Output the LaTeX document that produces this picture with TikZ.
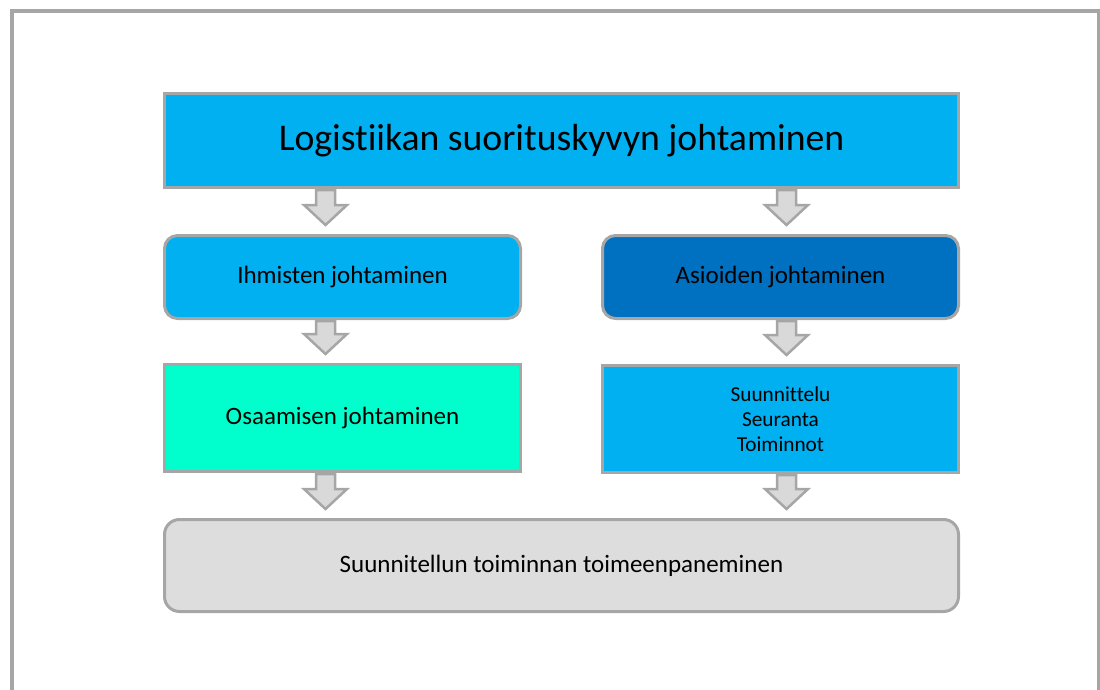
\documentclass[tikz,border=0pt]{standalone}
\usepackage{fontspec}
\setmainfont{Carlito}[Ligatures=NoCommon]
\usetikzlibrary{calc}
\definecolor{edgegray}{HTML}{A6A6A6}
\definecolor{skyblue}{HTML}{00B0F0}
\definecolor{deepblue}{HTML}{0070C0}
\definecolor{aqua}{HTML}{00FFCC}
\definecolor{paleg}{HTML}{DDDDDD}
\definecolor{arrowfill}{HTML}{D9D9D9}
\tikzset{
  box/.style={draw=edgegray, line width=3pt, inner sep=0pt, align=center, text=black, font=\fontsize{25}{29}\selectfont},
  roundbox/.style={box, rounded corners=13pt},
  blk/.style={draw=edgegray, fill=arrowfill, line width=2.5pt, line join=miter},
}
% block arrow pointing down from #1 towards #2 (same x), stopping short of #2
\newcommand\blockarrow[2]{%
  \draw[blk] let \p1=#1, \p2=#2 in
    (\x1-9.5pt,\y1-1pt) -- (\x1-9.5pt,\y2+29pt) -- (\x1-21.5pt,\y2+29pt) -- (\x1,\y2+9pt)
    -- (\x1+21.5pt,\y2+29pt) -- (\x1+9.5pt,\y2+29pt) -- (\x1+9.5pt,\y1-1pt) -- cycle;
}
\begin{document}
\begin{tikzpicture}[x=1pt,y=-1pt]
  \useasboundingbox (0,0) rectangle (1100,690);
  \begin{scope}
    \clip (0,0) rectangle (1100,690);
    \draw[edgegray, line width=4pt] (12,11) rectangle (1099,720);
  \end{scope}

  % column lines for the arrows
  \coordinate (colL) at (325.5,0);
  \coordinate (colR) at (786.5,0);

  \node[box, fill=skyblue, minimum width=794, minimum height=94, font=\fontsize{37.7}{44}\selectfont]
    (top) at (561.5,140.5) {Logistiikan suorituskyvyn johtaminen};

  \node[roundbox, fill=skyblue, minimum width=356, minimum height=83]
    (ihm) at (342.5,277) {Ihmisten johtaminen};
  \node[roundbox, fill=deepblue, minimum width=356, minimum height=83]
    (asi) at (780.5,277) {Asioiden johtaminen};

  \node[box, fill=aqua, minimum width=356, minimum height=107]
    (osa) at (342.5,418) {Osaamisen johtaminen};
  \node[box, fill=skyblue, minimum width=356, minimum height=107, font=\fontsize{21.3}{25}\selectfont]
    (suu) at (780.5,419) {Suunnittelu\\Seuranta\\Toiminnot};

  \node[roundbox, fill=paleg, rounded corners=15pt, minimum width=794, minimum height=92]
    (toi) at (561.5,565.5) {Suunnitellun toiminnan toimeenpaneminen};

  \blockarrow{(top.south -| colL)}{(ihm.north -| colL)}
  \blockarrow{(top.south -| colR)}{(asi.north -| colR)}
  \blockarrow{(ihm.south -| colL)}{(osa.north -| colL)}
  \blockarrow{(asi.south -| colR)}{(suu.north -| colR)}
  \blockarrow{(osa.south -| colL)}{(toi.north -| colL)}
  \blockarrow{(suu.south -| colR)}{(toi.north -| colR)}
\end{tikzpicture}
\end{document}
